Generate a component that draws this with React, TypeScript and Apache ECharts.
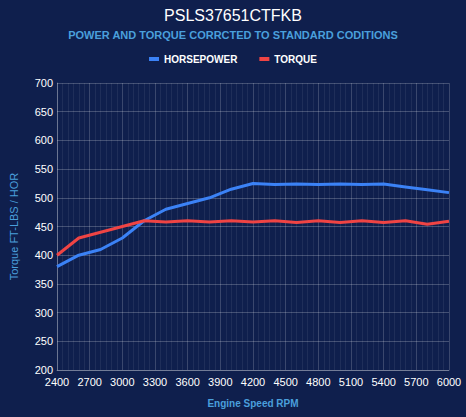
import React, { useEffect, useRef } from "react";
import * as echarts from "echarts";

const rpm = [2400, 2600, 2800, 3000, 3200, 3400, 3600, 3800, 4000, 4200, 4400, 4600, 4800, 5000, 5200, 5400, 5600, 5800, 6000];
const horsepower = [380, 400, 410, 430, 460, 480, 490, 500, 515, 525, 523, 524, 523, 524, 523, 524, 519, 514, 509];
const torque = [400, 430, 440, 450, 460, 458, 460, 458, 460, 458, 460, 457, 460, 457, 460, 457, 460, 454, 459];

const titleText = "PSLS37651CTFKB";
const subtitleText = "POWER AND TORQUE CORRCTED TO STANDARD CODITIONS";
const seriesNames = ["HORSEPOWER", "TORQUE"];
const xAxisName = "Engine Speed RPM";
const yAxisName = "Torque FT-LBS / HOR";

const BG = "#0f1f4d";
const BLUE = "#3b82f6";
const RED = "#ef4444";
const FONT = "Liberation Sans, Arial, sans-serif";

export default function App() {
  const ref = useRef<HTMLDivElement>(null);
  useEffect(() => {
    if (!ref.current) return;
    const chart = echarts.init(ref.current, undefined, { renderer: "svg" });
    chart.setOption({
      animation: false,
      backgroundColor: BG,
      textStyle: { fontFamily: FONT },
      title: {
        text: titleText,
        subtext: subtitleText,
        left: "center",
        top: 2,
        itemGap: 6,
        textStyle: { color: "#ffffff", fontSize: 16, fontWeight: "normal", fontFamily: FONT },
        subtextStyle: { color: "#4a9fdc", fontSize: 11, fontWeight: "bold", fontFamily: FONT },
      },
      legend: {
        top: 49,
        left: "center",
        itemWidth: 10,
        itemHeight: 4,
        itemGap: 22,
        icon: "rect",
        textStyle: { color: "#ffffff", fontSize: 10, fontWeight: "bold", fontFamily: FONT },
        data: seriesNames,
      },
      grid: { left: 55, right: 17, top: 83, bottom: 47 },
      xAxis: {
        type: "value",
        min: 2400,
        max: 6000,
        interval: 300,
        name: xAxisName,
        nameLocation: "middle",
        nameGap: 28,
        nameTextStyle: { color: "#4a9fdc", fontSize: 10, fontWeight: "bold" },
        axisLine: { show: true, lineStyle: { color: "rgba(255,255,255,0.25)" } },
        axisTick: { show: false },
        axisLabel: { color: "#ffffff", fontSize: 11, margin: 6, formatter: (v: number) => String(v) },
        splitLine: { show: true, lineStyle: { color: "rgba(255,255,255,0.18)" } },
        minorTick: { show: false, splitNumber: 6 },
        minorSplitLine: { show: true, lineStyle: { color: "rgba(255,255,255,0.07)" } },
      },
      yAxis: {
        type: "value",
        min: 200,
        max: 700,
        interval: 50,
        name: yAxisName,
        nameLocation: "middle",
        nameGap: 38,
        nameTextStyle: { color: "#4a9fdc", fontSize: 11 },
        axisLine: { show: true, lineStyle: { color: "rgba(255,255,255,0.25)" } },
        axisTick: { show: false },
        axisLabel: { color: "#ffffff", fontSize: 11, margin: 4 },
        splitLine: { show: true, lineStyle: { color: "rgba(255,255,255,0.22)" } },
      },
      series: [
        {
          name: seriesNames[0],
          type: "line",
          data: rpm.map((r, i) => [r, horsepower[i]]),
          showSymbol: false,
          lineStyle: { color: BLUE, width: 3 },
          itemStyle: { color: BLUE },
        },
        {
          name: seriesNames[1],
          type: "line",
          data: rpm.map((r, i) => [r, torque[i]]),
          showSymbol: false,
          lineStyle: { color: RED, width: 3 },
          itemStyle: { color: RED },
        },
      ],
    });
    return () => chart.dispose();
  }, []);
  return <div ref={ref} style={{ width: 466, height: 417, position: "fixed", left: 0, top: 0 }} />;
}
